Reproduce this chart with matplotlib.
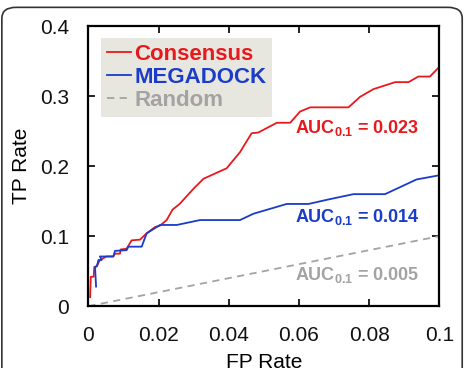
import matplotlib
matplotlib.use("Agg")
import matplotlib.pyplot as plt
from matplotlib.patches import FancyBboxPatch

plt.rcParams['font.family'] = ['Liberation Sans', 'DejaVu Sans']
plt.rcParams['mathtext.fontset'] = 'custom'
plt.rcParams['mathtext.rm'] = 'Liberation Sans'
plt.rcParams['mathtext.bf'] = 'Liberation Sans:bold'

# ROC curves (FP rate, TP rate)
cons_fp = [0.0005, 0.0007, 0.0015, 0.0017, 0.0024, 0.0033, 0.0052, 0.0071, 0.0076,
           0.0090, 0.0092, 0.0109, 0.0123, 0.0147, 0.0166, 0.0190, 0.0204, 0.0223,
           0.0240, 0.0260, 0.0300, 0.0328, 0.0394, 0.0432, 0.0465, 0.0484, 0.0537,
           0.0575, 0.0603, 0.0632, 0.0741, 0.0774, 0.0812, 0.0874, 0.0912, 0.0940,
           0.0973, 0.1000]
cons_tp = [0.013, 0.042, 0.042, 0.056, 0.057, 0.066, 0.071, 0.071, 0.075,
           0.075, 0.081, 0.082, 0.094, 0.095, 0.104, 0.113, 0.115, 0.123,
           0.138, 0.146, 0.168, 0.182, 0.197, 0.220, 0.247, 0.248, 0.262,
           0.262, 0.278, 0.284, 0.284, 0.299, 0.310, 0.320, 0.320, 0.328,
           0.328, 0.342]

mega_fp = [0.0022, 0.0019, 0.0024, 0.0029, 0.0038, 0.0033, 0.0071, 0.0076, 0.0109,
           0.0114, 0.0152, 0.0166, 0.0204, 0.0252, 0.0318, 0.0432, 0.0470, 0.0565,
           0.0627, 0.0680, 0.0755, 0.0845, 0.0935, 0.1000]
mega_tp = [0.028, 0.056, 0.057, 0.066, 0.066, 0.071, 0.071, 0.079, 0.080,
           0.085, 0.085, 0.104, 0.116, 0.116, 0.123, 0.123, 0.132, 0.146,
           0.146, 0.152, 0.160, 0.160, 0.181, 0.187]

rand_fp = [0.0, 0.1]
rand_tp = [0.0, 0.1]

labels = ["Consensus", "MEGADOCK", "Random"]
auc_vals = ["0.023", "0.014", "0.005"]
auc_y = [0.254, 0.127, 0.044]

red = "#e8191c"
blue = "#1a3cc8"
gray = "#a3a3a3"
colors = [red, blue, gray]

fig = plt.figure(figsize=(4.65, 3.68), dpi=100)
fig.patches.append(FancyBboxPatch((0.004, -0.1), 0.99, 1.08,
                                  boxstyle="round,pad=0,rounding_size=0.03",
                                  transform=fig.transFigure, fill=False,
                                  edgecolor="#333333", linewidth=1.2))
ax = fig.add_axes([0.190, 0.168, 0.755, 0.761])

ax.plot(cons_fp, cons_tp, color=red, lw=1.3, label=labels[0])
ax.plot(mega_fp, mega_tp, color=blue, lw=1.3, label=labels[1])
ax.plot(rand_fp, rand_tp, color=gray, lw=1.3, ls=(0, (4, 3)), label=labels[2])

for val, y, c in zip(auc_vals, auc_y, colors):
    ax.text(0.0588, y, r"$\mathbf{AUC_{0.1}}$" + " = " + val, color=c,
            fontsize=13, fontweight="bold", va="center", ha="left")

ax.set_xlim(0, 0.1)
ax.set_ylim(0, 0.4)
ax.set_xticks([0, 0.02, 0.04, 0.06, 0.08, 0.1])
ax.set_xticklabels(["0", "0.02", "0.04", "0.06", "0.08", "0.1"])
ax.set_yticks([0, 0.1, 0.2, 0.3, 0.4])
ax.set_yticklabels(["0", "0.1", "0.2", "0.3", "0.4"])
ax.tick_params(direction="in", length=5, width=1.3, top=True, right=True,
               labelsize=15, pad=14, colors="#111111")
for s in ax.spines.values():
    s.set_linewidth(1.6)
ax.set_xlabel("FP Rate", fontsize=15, labelpad=6)
ax.set_ylabel("TP Rate", fontsize=15, labelpad=6)

leg = ax.legend(loc="upper left", bbox_to_anchor=(0.036, 0.957), borderaxespad=0,
                frameon=True, fancybox=False, handlelength=1.1, handletextpad=0.15,
                labelspacing=0.1, borderpad=0.25,
                prop={"weight": "bold", "size": 16})
leg.get_frame().set_facecolor("#e8e7df")
leg.get_frame().set_edgecolor("none")
leg.get_frame().set_alpha(1)
for t, c in zip(leg.get_texts(), colors):
    t.set_color(c)

fig.savefig("out.png", dpi=100)
